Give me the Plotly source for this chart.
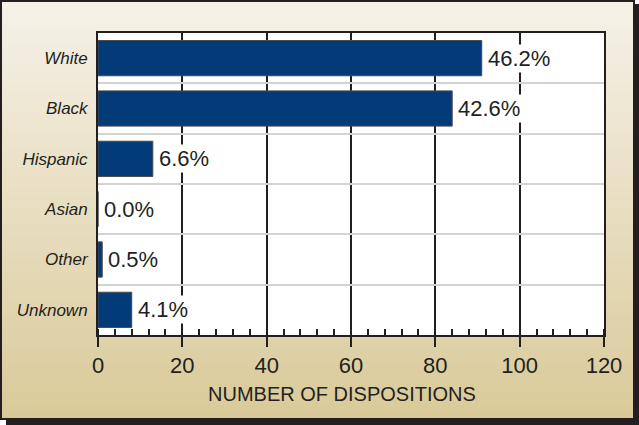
import plotly.graph_objects as go

categories = ["White", "Black", "Hispanic", "Asian", "Other", "Unknown"]
dispositions = [91, 84, 13, 0, 1, 8]
x_ticks = [0, 20, 40, 60, 80, 100, 120]
x_title = "NUMBER OF DISPOSITIONS"

total = sum(dispositions)
pct_labels = [f"{v / total * 100:.1f}%" for v in dispositions]

W, H = 639, 425
L, R, T, B = 98, 35, 33, 90
PW, PH = W - L - R, H - T - B

def px(x):
    return (x - L) / PW

def py(y):
    return (H - B - y) / PH

ink = "#231f20"
fig = go.Figure()
fig.add_trace(go.Bar(
    x=dispositions, y=categories, orientation="h", width=0.7,
    marker=dict(color="#033a78", line=dict(color="#4a4a4a", width=1)),
    hoverinfo="skip",
))

for cat, v, lab in zip(categories, dispositions, pct_labels):
    fig.add_annotation(x=v, y=cat, xref="x", yref="y", text=lab, showarrow=False,
                       xanchor="left", yanchor="middle", xshift=4, bgcolor="white",
                       borderpad=1, font=dict(size=22, color=ink, family="Liberation Sans, Arial"))

fig.add_annotation(x=px(342), y=py(394), xref="paper", yref="paper", text=x_title,
                   showarrow=False, xanchor="center", yanchor="middle",
                   font=dict(size=20, color=ink, family="Liberation Sans, Arial"))

shapes = []
# shadow
shapes.append(dict(type="rect", xref="paper", yref="paper", layer="below",
                   x0=px(6), x1=px(W), y0=py(H), y1=py(4),
                   fillcolor=ink, line=dict(width=0)))
# gradient stripes
top = (245, 241, 231)
bot = (218, 202, 154)
n = 60
y_top, y_bot = 1, 418
for i in range(n):
    t = i / (n - 1)
    c = tuple(round(top[k] + (bot[k] - top[k]) * t) for k in range(3))
    ya = y_top + (y_bot - y_top) * i / n
    yb = y_top + (y_bot - y_top) * (i + 1) / n + 0.8
    shapes.append(dict(type="rect", xref="paper", yref="paper", layer="below",
                       x0=px(1), x1=px(633), y0=py(min(yb, y_bot)), y1=py(ya),
                       fillcolor=f"rgb{c}", line=dict(width=0)))
# frame border
shapes.append(dict(type="rect", xref="paper", yref="paper", layer="below",
                   x0=px(1), x1=px(634), y0=py(419), y1=py(1),
                   fillcolor="rgba(0,0,0,0)", line=dict(color=ink, width=2)))
# plot area
shapes.append(dict(type="rect", xref="paper", yref="paper", layer="below",
                   x0=0, x1=1, y0=0, y1=1, fillcolor="white", line=dict(width=0)))

fig.update_layout(
    width=W, height=H,
    margin=dict(l=L, r=R, t=T, b=B, pad=0),
    paper_bgcolor="white", plot_bgcolor="white",
    showlegend=False, shapes=shapes,
    font=dict(family="Liberation Sans, Arial", color=ink),
    xaxis=dict(
        range=[0, 120], tickvals=x_ticks, ticktext=[str(v) for v in x_ticks],
        showgrid=True, gridcolor=ink, gridwidth=2, zeroline=False,
        ticks="outside", ticklen=10, tickwidth=2, tickcolor=ink,
        showline=True, linecolor=ink, linewidth=2, mirror=True,
        minor=dict(ticks="inside", dtick=4, ticklen=6, tickwidth=2, tickcolor=ink, showgrid=False),
        tickfont=dict(size=22, color=ink),
    ),
    yaxis=dict(
        type="category", autorange="reversed", tickson="boundaries",
        showgrid=True, gridcolor="#d3d3d3", gridwidth=2, zeroline=False,
        ticks="", ticklabelstandoff=5,
        showline=True, linecolor=ink, linewidth=2, mirror=True,
        tickfont=dict(size=17, color=ink, style="italic"),
    ),
)

fig.write_html("out.html", config={"displayModeBar": False},
               post_script="document.body.style.margin='0';")
